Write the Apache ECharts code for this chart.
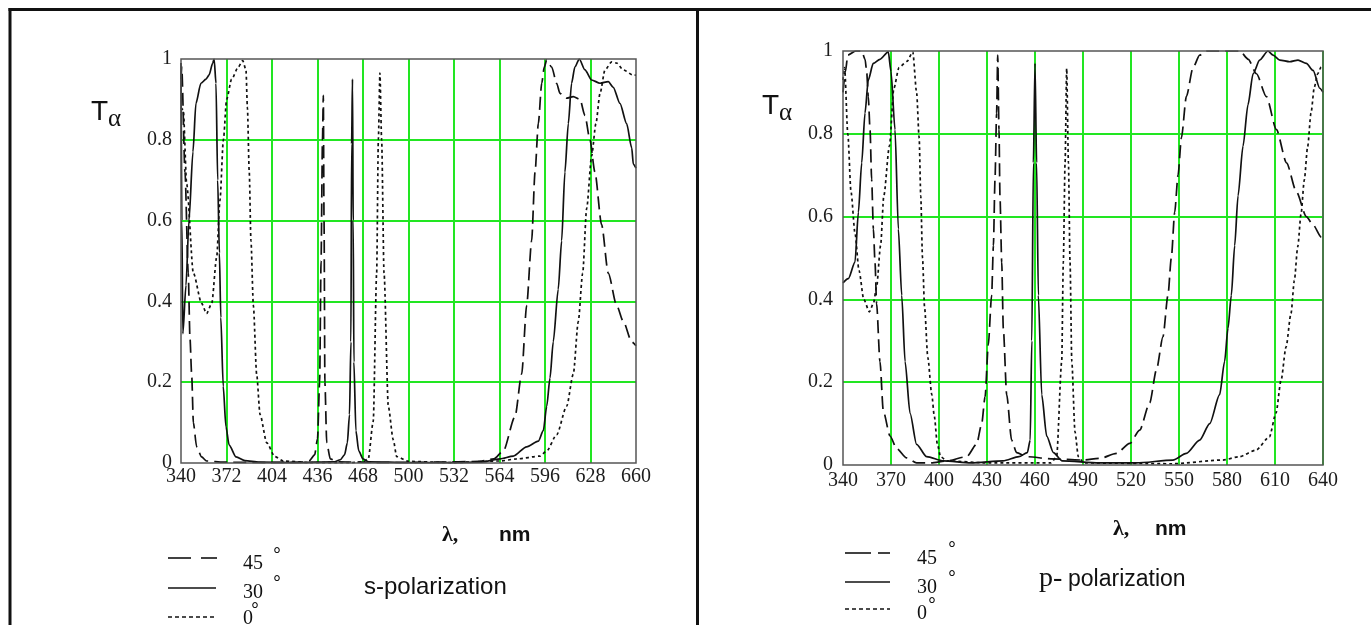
<!doctype html>
<html>
<head>
<meta charset="utf-8">
<title>Transmission spectra</title>
<script src="https://cdn.jsdelivr.net/npm/echarts@6/dist/echarts.min.js"></script>
<style>
  html, body { margin: 0; padding: 0; background: #fff; }
  #main { width: 1371px; height: 625px; }
</style>
</head>
<body>
<div id="main"></div>
<script>
// wavelength axes (nm)
var sAxisMin = 340, sAxisMax = 660, sAxisStep = 32;
var pAxisMin = 340, pAxisMax = 640, pAxisStep = 30;

// s-polarization, 45 deg (dashed)
var sLam45 = [340, 340.5, 342.8, 345.1, 346.3, 347.5, 348.7, 351, 354.5, 358, 370, 400, 425, 430, 434, 436, 437.5, 438.5, 439.5, 440.1, 440.6, 441.2, 442.5, 445, 450, 480, 520, 550, 560, 566.7, 574.9, 579.6, 583.1, 586.6, 589, 591.3, 593.7, 595.5, 597.2, 600.7, 604.2, 606.5, 611.2, 615.9, 620.6, 624.1, 627.6, 631.1, 635.8, 640.5, 646.4, 651.1, 657, 660];
var sT45 = [0.95, 0.98, 0.72, 0.47, 0.31, 0.22, 0.10, 0.04, 0.015, 0.005, 0.002, 0.001, 0.002, 0.005, 0.02, 0.06, 0.2, 0.5, 0.8, 0.91, 0.6, 0.2, 0.05, 0.01, 0.003, 0.001, 0.002, 0.004, 0.01, 0.03, 0.115, 0.22, 0.39, 0.55, 0.72, 0.84, 0.94, 0.98, 0.998, 0.98, 0.94, 0.915, 0.903, 0.907, 0.90, 0.86, 0.80, 0.72, 0.59, 0.47, 0.39, 0.35, 0.30, 0.29];

// s-polarization, 30 deg (solid)
var sLam30 = [340, 340.6, 341.3, 343.5, 345.6, 348.4, 350.5, 354, 357.6, 359.7, 362.3, 363.3, 364.6, 365.8, 367, 368, 369.7, 371.6, 373.8, 378.7, 385, 395, 420, 448, 452, 455, 457, 458.5, 459.5, 460, 460.6, 461.1, 461.6, 463, 465, 468, 472, 500, 530, 550.3, 564.3, 573.7, 583.1, 591.3, 594.8, 597.2, 599.5, 601.8, 605.3, 607.7, 610, 612.4, 614.7, 617, 620.1, 624.1, 628.8, 634.7, 640.5, 644, 648.7, 653.4, 657, 658.1, 660];
var sT30 = [0.99, 0.6, 0.32, 0.44, 0.60, 0.77, 0.89, 0.94, 0.95, 0.96, 0.99, 1.0, 0.94, 0.70, 0.52, 0.36, 0.19, 0.09, 0.045, 0.015, 0.006, 0.002, 0.001, 0.003, 0.008, 0.02, 0.05, 0.12, 0.3, 0.79, 0.95, 0.6, 0.25, 0.08, 0.03, 0.01, 0.003, 0.001, 0.001, 0.002, 0.01, 0.017, 0.04, 0.054, 0.08, 0.14, 0.21, 0.30, 0.43, 0.55, 0.72, 0.84, 0.94, 0.98, 1.0, 0.973, 0.948, 0.94, 0.944, 0.93, 0.89, 0.84, 0.78, 0.74, 0.73];

// s-polarization, 0 deg (dotted)
var sLam0 = [340, 341.6, 344, 348.7, 354.5, 358, 361.6, 365.1, 367.4, 369.8, 372.1, 375.6, 380.3, 383.4, 385.7, 386.7, 388, 389.2, 390.9, 393.2, 395.6, 400.3, 406, 412, 430, 460, 468, 471.7, 475.2, 477.6, 478.8, 479.9, 481.1, 482.8, 485.8, 489.3, 491.7, 500, 530, 564.3, 576, 592.4, 597.2, 604.2, 611.2, 615.9, 619.4, 622.5, 625.3, 628.8, 631.8, 634.7, 638.2, 643, 646.4, 651.1, 658.1, 660];
var sT0 = [0.88, 0.874, 0.69, 0.47, 0.395, 0.37, 0.395, 0.51, 0.65, 0.80, 0.90, 0.95, 0.98, 0.996, 0.973, 0.88, 0.72, 0.55, 0.39, 0.22, 0.12, 0.05, 0.016, 0.005, 0.001, 0.001, 0.003, 0.01, 0.103, 0.47, 0.80, 0.965, 0.8, 0.47, 0.14, 0.057, 0.016, 0.004, 0.001, 0.005, 0.01, 0.017, 0.03, 0.07, 0.14, 0.22, 0.35, 0.47, 0.63, 0.76, 0.84, 0.915, 0.973, 0.993, 0.99, 0.973, 0.96, 0.96];

// p-polarization, 45 deg (dashed)
var pLam45 = [340, 341.5, 343, 348, 351.7, 353.8, 354.8, 355.8, 356.9, 357.9, 359, 360, 361, 363.1, 365.2, 369.4, 373.5, 379.8, 386, 395, 405, 417.3, 423.5, 426.7, 428.8, 430.8, 432.9, 434, 435, 436, 436.7, 437.5, 438.1, 439.2, 440.2, 442.3, 445.4, 448.5, 455, 470, 490, 500.6, 510.9, 519.2, 525.4, 531.7, 535.9, 540, 543.1, 545.2, 547.3, 549.4, 551.5, 554.6, 558.8, 562.9, 567.1, 588, 593.3, 598.4, 604.6, 610.9, 617.2, 623.4, 629.6, 633.8, 639, 640];
var pT45 = [0.9, 0.95, 0.99, 1.0, 1.0, 0.98, 0.95, 0.89, 0.81, 0.69, 0.57, 0.49, 0.39, 0.25, 0.13, 0.07, 0.04, 0.017, 0.005, 0.005, 0.01, 0.02, 0.05, 0.1, 0.165, 0.29, 0.41, 0.53, 0.69, 0.85, 0.99, 0.81, 0.65, 0.49, 0.33, 0.17, 0.06, 0.03, 0.02, 0.015, 0.012, 0.016, 0.028, 0.052, 0.084, 0.15, 0.23, 0.31, 0.41, 0.50, 0.61, 0.70, 0.79, 0.89, 0.96, 0.99, 1.0, 1.0, 0.98, 0.945, 0.89, 0.81, 0.73, 0.66, 0.60, 0.58, 0.55, 0.55];

// p-polarization, 30 deg (solid)
var pLam30 = [340, 343.3, 347.5, 349.6, 351.7, 353.75, 355.8, 358.9, 363.1, 368.3, 370, 372.5, 374.6, 376.7, 378.8, 381.9, 386, 392.3, 402.7, 420, 440, 450, 455.2, 457, 458, 459, 460, 461, 462.1, 464.2, 467.3, 471.5, 477, 500, 523.3, 546.2, 554.6, 562.9, 569.2, 575.4, 578.5, 580.6, 582.7, 584.8, 586.9, 590, 593.1, 596.3, 600.4, 605.6, 608.8, 613, 619.2, 624.4, 629.6, 633.8, 638, 640];
var pT30 = [0.44, 0.45, 0.49, 0.61, 0.73, 0.85, 0.93, 0.97, 0.98, 0.998, 0.95, 0.81, 0.57, 0.41, 0.25, 0.125, 0.05, 0.02, 0.01, 0.005, 0.01, 0.02, 0.03, 0.06, 0.3, 0.73, 0.97, 0.73, 0.41, 0.17, 0.07, 0.03, 0.01, 0.005, 0.005, 0.012, 0.028, 0.06, 0.1, 0.17, 0.25, 0.33, 0.41, 0.53, 0.65, 0.77, 0.87, 0.945, 0.978, 1.0, 0.99, 0.978, 0.974, 0.978, 0.97, 0.953, 0.91, 0.90];

// p-polarization, 0 deg (dotted)
var pLam0 = [340, 341, 343, 345, 347.5, 350, 353, 356.5, 359, 361, 363.5, 365.5, 369, 371.8, 375, 380, 383.6, 386, 387.6, 388.6, 389.7, 391, 393, 395.5, 397, 399, 401, 405, 430, 470, 473.5, 476.7, 477.7, 478.8, 479.8, 480.9, 481.9, 483, 485, 487.1, 490.4, 546, 577.3, 587.7, 598.1, 606.5, 610.6, 613.8, 616.9, 620, 622.1, 624.2, 626.3, 628.3, 630.4, 632.5, 634.6, 636.7, 638.8, 640];
var pT0 = [0.93, 0.96, 0.8, 0.66, 0.56, 0.47, 0.4, 0.37, 0.39, 0.43, 0.53, 0.65, 0.77, 0.91, 0.96, 0.975, 0.998, 0.9, 0.79, 0.65, 0.5, 0.38, 0.26, 0.17, 0.12, 0.05, 0.02, 0.01, 0.005, 0.005, 0.02, 0.25, 0.49, 0.73, 0.958, 0.73, 0.49, 0.25, 0.08, 0.02, 0.005, 0.003, 0.012, 0.02, 0.036, 0.068, 0.125, 0.205, 0.285, 0.366, 0.446, 0.527, 0.607, 0.688, 0.769, 0.85, 0.913, 0.945, 0.961, 0.965];

var chart = echarts.init(document.getElementById('main'), null, { renderer: 'canvas' });

// x is stored relative to the axis start so ticks land on 340, 372, ...
function pairs(lam, t, base) {
    return lam.map(function (l, i) { return [l - base, t[i]]; });
}

var green = '#22e622';
var ink = '#111';
var tickFont = { fontFamily: 'Liberation Serif', fontSize: 20, color: '#1c1c1c' };

function xAxisFor(idx, min, max, step) {
    return {
        type: 'value', gridIndex: idx, min: 0, max: max - min, interval: step,
        axisLine: { show: false }, axisTick: { show: false },
        axisLabel: Object.assign({ margin: idx === 0 ? 4 : 6, formatter: function (v) { return String(v + min); } }, tickFont),
        splitLine: { show: true, showMinLine: false, showMaxLine: idx === 1, lineStyle: { color: green, width: 2 } }
    };
}
function yAxisFor(idx) {
    return {
        type: 'value', gridIndex: idx, min: 0, max: 1, interval: 0.2,
        axisLine: { show: false }, axisTick: { show: false },
        axisLabel: Object.assign({ margin: idx === 0 ? 9 : 10 }, tickFont),
        splitLine: { show: true, showMinLine: false, showMaxLine: false, lineStyle: { color: green, width: 2 } }
    };
}

function curve(name, idx, lam, t, base, dash) {
    return {
        name: name, type: 'line', xAxisIndex: idx, yAxisIndex: idx,
        data: pairs(lam, t, base), showSymbol: false, symbol: 'none',
        smooth: 0.25, smoothMonotone: 'x', z: 3,
        lineStyle: { color: ink, width: 1.7, type: dash }
    };
}

var dashLong = [13, 6];
var dot = [3, 3];

function txt(x, y, text, font, extra) {
    return {
        type: 'text', x: x, y: y, z: 10,
        style: Object.assign({ text: text, font: font, fill: ink, verticalAlign: 'middle' }, extra || {})
    };
}
function seg(x1, y1, x2, y2, w, dash) {
    return {
        type: 'line', z: 10, shape: { x1: x1, y1: y1, x2: x2, y2: y2 },
        style: { stroke: ink, lineWidth: w, lineDash: dash || null }
    };
}
function yTitle(x, y) {
    return { type: 'text', x: x, y: y, z: 10, style: { text: '{t|T}{a|α}', rich: {
        t: { fontFamily: 'Liberation Sans', fontSize: 28, fill: ink },
        a: { fontFamily: 'Liberation Serif', fontSize: 25, fill: ink, padding: [14, 0, 0, 0] } } } };
}

var graphics = [
    // outer frame
    seg(8.5, 9.5, 1371, 9.5, 3),
    seg(10, 8, 10, 625, 3),
    seg(697.5, 8, 697.5, 625, 3),
    // y titles
    yTitle(91, 93),
    yTitle(762, 87),
    // x titles
    txt(442, 535, 'λ,', 'bold 22px "Liberation Serif"'),
    txt(499, 535, 'nm', 'bold 21px "Liberation Sans"'),
    txt(1113, 529, 'λ,', 'bold 22px "Liberation Serif"'),
    txt(1155, 529, 'nm', 'bold 21px "Liberation Sans"'),
    // left legend
    seg(168, 558, 191, 558, 1.6), seg(201, 558, 217, 558, 1.6),
    seg(168, 588, 216, 588, 1.6),
    seg(168, 617, 216, 617, 1.6, [4, 3]),
    txt(243, 564, '45', '20px "Liberation Serif"'),
    txt(243, 593, '30', '20px "Liberation Serif"'),
    txt(243, 619, '0', '20px "Liberation Serif"'),
    txt(273, 556, '°', '20px "Liberation Sans"'),
    txt(273, 584, '°', '20px "Liberation Sans"'),
    txt(251, 611, '°', '20px "Liberation Sans"'),
    txt(364, 587, 's-polarization', '24px "Liberation Sans"'),
    // right legend
    seg(845, 553, 871, 553, 1.6), seg(878, 553, 890, 553, 1.6),
    seg(845, 582, 890, 582, 1.6),
    seg(845, 609, 890, 609, 1.6, [4, 3]),
    txt(917, 559, '45', '20px "Liberation Serif"'),
    txt(917, 588, '30', '20px "Liberation Serif"'),
    txt(917, 614, '0', '20px "Liberation Serif"'),
    txt(948, 550, '°', '20px "Liberation Sans"'),
    txt(948, 579, '°', '20px "Liberation Sans"'),
    txt(928, 606, '°', '20px "Liberation Sans"'),
    txt(1039, 579, 'p-', '28px "Liberation Serif"'),
    txt(1068, 580, 'polarization', '23px "Liberation Sans"')
];

chart.setOption({
    animation: false,
    backgroundColor: '#fff',
    grid: [
        { left: 181, top: 59, width: 455, height: 404, show: true, borderColor: '#555', borderWidth: 1.5, z: 4 },
        { left: 843, top: 51, width: 480, height: 414, show: true, borderColor: '#555', borderWidth: 1.5, z: 4 }
    ],
    xAxis: [xAxisFor(0, sAxisMin, sAxisMax, sAxisStep), xAxisFor(1, pAxisMin, pAxisMax, pAxisStep)],
    yAxis: [yAxisFor(0), yAxisFor(1)],
    series: [
        curve('45°', 0, sLam45, sT45, sAxisMin, dashLong),
        curve('30°', 0, sLam30, sT30, sAxisMin, 'solid'),
        curve('0°', 0, sLam0, sT0, sAxisMin, dot),
        curve('45°', 1, pLam45, pT45, pAxisMin, dashLong),
        curve('30°', 1, pLam30, pT30, pAxisMin, 'solid'),
        curve('0°', 1, pLam0, pT0, pAxisMin, dot)
    ],
    graphic: graphics
});

window.addEventListener('resize', function () {
    chart.resize();
});
</script>
</body>
</html>
